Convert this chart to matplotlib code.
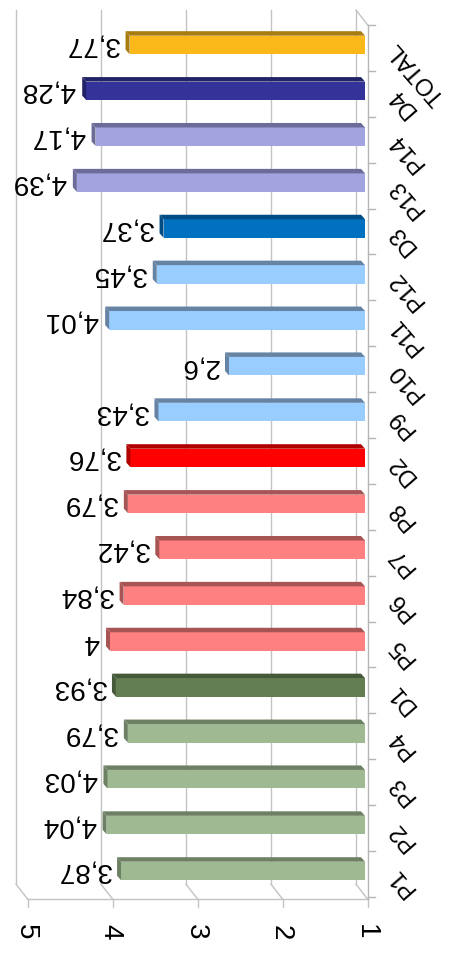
import matplotlib
matplotlib.use("Agg")
import matplotlib.pyplot as plt
from matplotlib.patches import Polygon
from matplotlib.transforms import offset_copy

plt.rcParams['font.family'] = ['Liberation Sans', 'DejaVu Sans']

# ---- data ----
categories = ["P1", "P2", "P3", "P4", "D1", "P5", "P6", "P7", "P8", "D2",
              "P9", "P10", "P11", "P12", "D3", "P13", "P14", "D4", "TOTAL"]
scores = [3.87, 4.04, 4.03, 3.79, 3.93, 4.00, 3.84, 3.42, 3.79, 3.76,
          3.43, 2.60, 4.01, 3.45, 3.37, 4.39, 4.17, 4.28, 3.77]
axis_ticks = [1, 2, 3, 4, 5]

# front / top-side colours of each bar
face_colors = ["#9FB993"] * 4 + ["#647E54"] + ["#FF8080"] * 4 + ["#FF0000"] + \
              ["#99CCFF"] * 4 + ["#0070C0"] + ["#A3A3E0"] * 2 + ["#333399"] + ["#FAB819"]
side_colors = ["#6E8064"] * 4 + ["#46583A"] + ["#A65454"] * 4 + ["#B00000"] + \
              ["#6683A3"] * 4 + ["#004C85"] + ["#6C6C99"] * 2 + ["#222266"] + ["#A87C0F"]

W, H = 452, 961
fig = plt.figure(figsize=(W / 100, H / 100), dpi=100)
# bar-face plane: value 5 at left, value 1 at right, P1 at the bottom
x_left, x_right = 25, 365
y_top, y_bot = 22, 896.2
ax = fig.add_axes([x_left / W, (H - y_bot) / H, (x_right - x_left) / W, (y_bot - y_top) / H])
ax.set_xlim(5, 1)
ymin, ymax = -0.55, 18.5
ax.set_ylim(ymin, ymax)
ax.axis('off')

front = offset_copy(ax.transData, fig=fig, x=2.7, y=-3, units='dots')
back = offset_copy(ax.transData, fig=fig, x=-9, y=12, units='dots')
grid_c = "#C3C3C3"
lw = 1.0

# back wall gridlines and floor diagonals
for v in axis_ticks:
    ax.plot([v, v], [ymin, ymax], color=grid_c, lw=lw, transform=back, clip_on=False, zorder=1)
    p0 = back.transform((v, ymin))
    p1 = front.transform((v, ymin))
    ax.plot([p0[0], p1[0]], [p0[1], p1[1]], color=grid_c, lw=lw,
            transform=None, clip_on=False, zorder=1)
    # tick mark under the floor edge
    ax.plot([p1[0], p1[0]], [p1[1], p1[1] - 8], color=grid_c, lw=lw,
            transform=None, clip_on=False, zorder=1)
    ax.text(p1[0] - 2, p1[1] - 33, str(v), rotation=270, ha='center', va='center',
            fontsize=20, transform=None, color="#000000")

# front floor edge
ax.plot([5, 1], [ymin, ymin], color=grid_c, lw=lw, transform=front, clip_on=False, zorder=1)
# category axis line, top diagonal and ticks
ax.plot([1, 1], [ymin, ymax], color="#B5B5B5", lw=lw, transform=front, clip_on=False, zorder=1)
q0 = back.transform((1, ymax))
q1 = front.transform((1, ymax))
ax.plot([q0[0], q1[0]], [q0[1], q1[1]], color=grid_c, lw=lw, transform=None, clip_on=False)
for k in range(-1, len(categories)):
    t = front.transform((1, k + 0.5))
    ax.plot([t[0], t[0] + 7], [t[1], t[1]], color="#B5B5B5", lw=lw, transform=None, clip_on=False)

# bars
pos = list(range(len(categories)))
bar_h = 18.5 / 45.9
ax.barh(pos, [s - 1 for s in scores], left=1, height=bar_h, color=face_colors,
        edgecolor='none', zorder=3)

dx_px, dy_px = -4.0, 4.5
to_disp = ax.transData.transform
from_disp = ax.transData.inverted().transform
label_tr = offset_copy(ax.transData, fig=fig, x=-10.5, y=0, units='dots')
for i, (s, fc, sc) in enumerate(zip(scores, face_colors, side_colors)):
    top = i + bar_h / 2
    bot = i - bar_h / 2
    pts = [to_disp(p) for p in [(1, top), (s, top)]]
    top_poly = [pts[0], pts[1], pts[1] + [dx_px, dy_px], pts[0] + [dx_px, dy_px]]
    ax.add_patch(Polygon([from_disp(p) for p in top_poly], closed=True,
                         facecolor=sc, edgecolor='none', zorder=3))
    sp = [to_disp(p) for p in [(s, bot), (s, top)]]
    side_poly = [sp[0], sp[1], sp[1] + [dx_px, dy_px], sp[0] + [dx_px, dy_px]]
    ax.add_patch(Polygon([from_disp(p) for p in side_poly], closed=True,
                         facecolor=sc, edgecolor='none', zorder=3))
    label = f"{s:g}".replace('.', ',')
    ax.text(s, i, label, rotation=180, rotation_mode='anchor', ha='left', va='center',
            fontsize=20, zorder=5, transform=label_tr)

# category labels
cat_tr = offset_copy(ax.transData, fig=fig, x=28, y=0, units='dots')
for i, c in enumerate(categories):
    ax.text(1, i, c, rotation=131, rotation_mode='anchor', ha='right', va='center',
            fontsize=17, transform=cat_tr)

fig.savefig("out.png", dpi=100)
